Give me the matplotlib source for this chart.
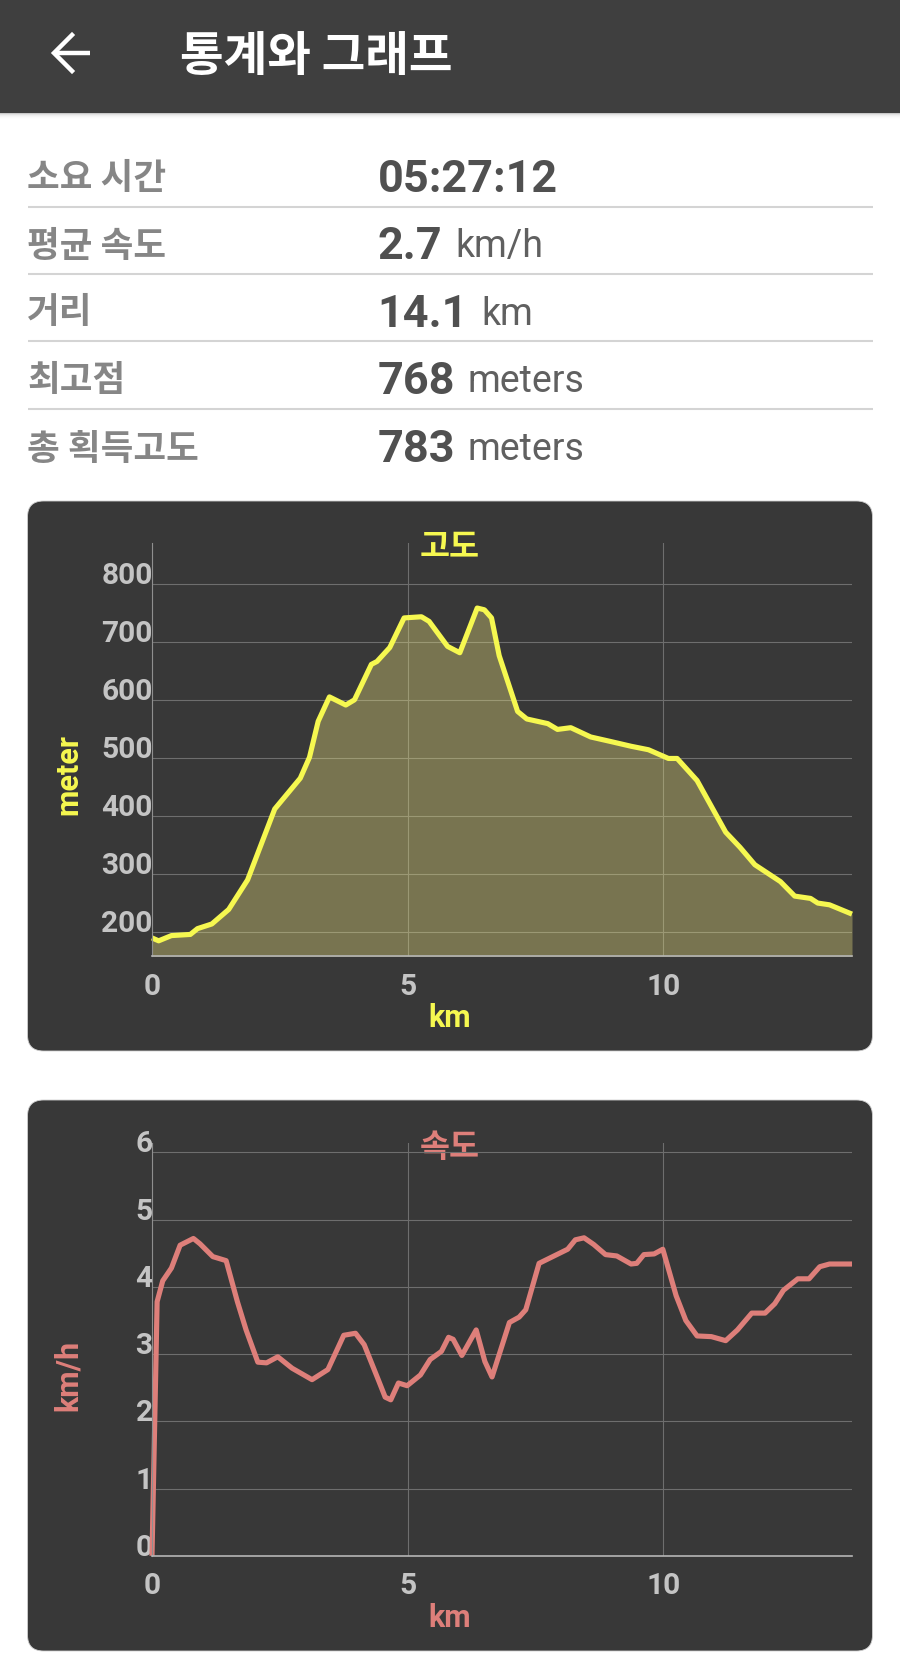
import matplotlib
matplotlib.use("Agg")
import matplotlib.pyplot as plt
from matplotlib.patches import FancyBboxPatch, Rectangle
from matplotlib.lines import Line2D

# ---- data ----
screen_title = "통계와 그래프"
stat_labels = ["소요 시간", "평균 속도", "거리", "최고점", "총 획득고도"]
stat_values = ["05:27:12", "2.7", "14.1", "768", "783"]
stat_units = ["", "km/h", "km", "meters", "meters"]

elev_km = [0, .13, .38, .75, .89, 1.17, 1.5, 1.87, 2.4, 2.9, 3.08, 3.25, 3.47, 3.79, 3.96, 4.29, 4.4, 4.65,
           4.93, 5.27, 5.42, 5.78, 6.02, 6.36, 6.5, 6.64, 6.79, 7.15, 7.33, 7.74, 7.93, 8.19, 8.58, 8.98,
           9.37, 9.71, 10.1, 10.27, 10.66, 11.22, 11.5, 11.79, 12.29, 12.57, 12.88, 13.02, 13.25, 13.69]
elev_m = [190, 185, 194, 196, 206, 214, 239, 290, 412, 465, 501, 563, 605, 591, 600, 661, 666, 690,
          741, 743, 735, 692, 681, 758, 755, 741, 676, 580, 567, 559, 549, 552, 536, 528,
          520, 514, 499, 499, 461, 372, 346, 316, 287, 262, 258, 250, 247, 231]

speed_km = [0, .04, .08, .1, .21, .38, .55, .81, .94, 1.19, 1.45, 1.67, 1.84, 2.07, 2.24, 2.46, 2.74, 3.13,
            3.44, 3.75, 3.98, 4.15, 4.43, 4.56, 4.67, 4.82, 4.99, 5.25, 5.44, 5.66, 5.8, 5.89, 6.06, 6.34,
            6.51, 6.65, 6.99, 7.18, 7.31, 7.57, 8.13, 8.28, 8.45, 8.64, 8.87, 9.09, 9.37, 9.48, 9.62, 9.82,
            9.99, 10.25, 10.44, 10.66, 10.94, 11.22, 11.45, 11.73, 11.99, 12.18, 12.35, 12.63, 12.85, 13.06,
            13.25, 13.69]
speed_kmh = [0, 1.49, 3.0, 3.78, 4.09, 4.28, 4.62, 4.72, 4.64, 4.45, 4.39, 3.78, 3.36, 2.88, 2.87, 2.96, 2.79, 2.62,
             2.77, 3.28, 3.31, 3.14, 2.61, 2.36, 2.32, 2.57, 2.53, 2.69, 2.92, 3.04, 3.25, 3.22, 2.98, 3.36,
             2.89, 2.66, 3.47, 3.55, 3.66, 4.35, 4.56, 4.7, 4.73, 4.63, 4.48, 4.46, 4.34, 4.35, 4.48, 4.49,
             4.56, 3.87, 3.5, 3.27, 3.26, 3.2, 3.36, 3.61, 3.61, 3.75, 3.95, 4.12, 4.12, 4.3,
             4.34, 4.34]

x_ticks = [0, 5, 10]
elev_ticks = [200, 300, 400, 500, 600, 700, 800]
speed_ticks = [0, 1, 2, 3, 4, 5, 6]

# ---- style ----
W, H = 900, 1669
KR = ["Noto Sans CJK KR", "DejaVu Sans"]
RB = ["Roboto", "DejaVu Sans"]
HEADER = "#3f3f3f"
PANEL = "#383838"
YEL = "#f6f850"
RED = "#de7f7a"
TICK = "#c4c4c4"

fig = plt.figure(figsize=(W / 100, H / 100), dpi=100, facecolor="white")
bg = fig.add_axes([0, 0, 1, 1])
bg.set_xlim(0, W)
bg.set_ylim(H, 0)
bg.axis("off")

# header and its shadow
bg.add_patch(Rectangle((0, 0), W, 113, fc=HEADER, ec="none"))
for i, g in enumerate(["#c8c8c8", "#e2e2e2", "#eeeeee", "#f5f5f5", "#fafafa", "#fdfdfd"]):
    bg.add_patch(Rectangle((0, 113 + i), W, 1, fc=g, ec="none"))
bg.add_line(Line2D([54, 90], [53, 53], color="white", lw=3.2, solid_capstyle="butt"))
bg.add_line(Line2D([72, 54, 72], [35, 53, 71], color="white", lw=3.2, solid_joinstyle="miter"))
bg.text(180, 57, screen_title, family=KR, fontsize=34.2, color="white", va="center", ha="left", weight="bold")

# stats table
label_y = [178.5, 246, 313, 381, 449.5]
base_y = [192, 259, 327, 394, 461.5]
unit_x = [None, 455, 481, 468, 468]
rule_y = [207, 274.5, 341.5, 409.5]
for lab, val, unit, ly, by, ux in zip(stat_labels, stat_values, stat_units, label_y, base_y, unit_x):
    bg.text(27, ly, lab, family=KR, fontsize=25.6, color="#868686", weight="bold", va="center", ha="left")
    bg.text(377.5, by, val, family=RB, fontsize=32.4, color="#505050", weight="bold", va="baseline", ha="left")
    if unit:
        bg.text(ux, by - 2, unit, family=RB, fontsize=27, color="#606060", va="baseline", ha="left")
for ry in rule_y:
    bg.add_line(Line2D([27.5, 872.5], [ry, ry], color="#d4d4d4", lw=1.5, solid_capstyle="butt"))


def panel(top, bottom):
    bg.add_patch(FancyBboxPatch((27.5 + 16, top + 16), 845 - 32, bottom - top - 32,
                                boxstyle="round,pad=16,rounding_size=16", fc=PANEL, ec="#d0d0d0", lw=0.6))


def chart(top, bottom, ylim, yticks, xs, ys, color, title, ylabel, title_y, km_y, ylab_y, xtick_y, fill):
    ax = fig.add_axes([152 / W, 1 - bottom / H, (852 - 152) / W, (bottom - top) / H])
    ax.patch.set_alpha(0)
    ax.set_xlim(0, 13.69)
    ax.set_ylim(*ylim)
    ax.set_xticks(x_ticks)
    ax.set_yticks(yticks)
    ax.grid(True, color="#6e6e6e", lw=0.8)
    ax.set_axisbelow(True)
    for s in ("top", "right"):
        ax.spines[s].set_visible(False)
    ax.spines["left"].set_color("#8f8f8f")
    ax.spines["left"].set_linewidth(0.8)
    ax.spines["bottom"].set_color("#b5b5b5")
    ax.spines["bottom"].set_linewidth(1.2)
    ax.tick_params(length=0, labelcolor=TICK, labelsize=21.5)
    ax.tick_params(axis="y", pad=-0.5)
    ax.tick_params(axis="x", pad=xtick_y)
    for t in ax.get_yticklabels() + ax.get_xticklabels():
        t.set_family(RB)
        t.set_weight("bold")
    for t in ax.get_yticklabels():
        t.set_va("baseline")
    if fill:
        ax.fill_between(xs, ys, ylim[0], color="#f5eb80", alpha=0.34, lw=0)
    ax.plot(xs, ys, color=color, lw=3.7, solid_joinstyle="round", solid_capstyle="butt", clip_on=False)
    bg.text(450, title_y, title, family=KR, fontsize=23.5, weight="bold", color=color, ha="center", va="center")
    bg.text(450, km_y, "km", family=RB, fontsize=22, weight="bold", color=color, ha="center", va="center")
    bg.text(68, ylab_y, ylabel, family=RB, fontsize=22, weight="bold", color=color, ha="center", va="center",
            rotation=90)


panel(501, 1051)
panel(1100, 1651)
chart(543, 956.5, (158, 870), elev_ticks, elev_km, elev_m, YEL, "고도", "meter", 547, 1018, 774, 12, True)
chart(1143, 1555.8, (0, 6.14), speed_ticks, speed_km, speed_kmh, RED, "속도", "km/h", 1147, 1618, 1375, 12, False)

fig.savefig("out.png", dpi=100)
